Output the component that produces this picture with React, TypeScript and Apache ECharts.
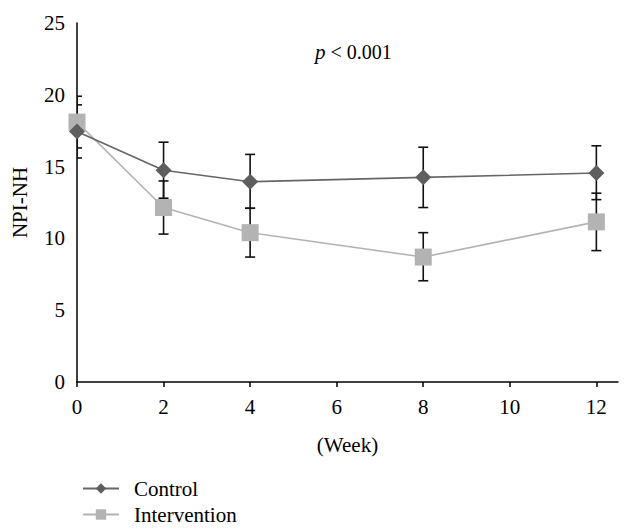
import React, { useEffect, useRef } from "react";
import * as echarts from "echarts";

const weeks = [0, 2, 4, 8, 12];
const control = [17.45, 14.75, 13.95, 14.25, 14.55];
const controlLow = [15.6, 12.8, 12.1, 12.15, 12.7];
const controlHigh = [19.9, 16.7, 15.85, 16.35, 16.45];
const intervention = [18.1, 12.15, 10.4, 8.7, 11.15];
const interventionLow = [16.3, 10.3, 8.7, 7.05, 9.15];
const interventionHigh = [19.3, 14.0, 12.1, 10.4, 13.15];
const xTicks = [0, 2, 4, 6, 8, 10, 12];

const FONT = "Liberation Serif, Times New Roman, serif";

export default function App() {
  const ref = useRef<HTMLDivElement>(null);
  useEffect(() => {
    if (!ref.current) return;
    const chart = echarts.init(ref.current, null, { renderer: "svg" });
    const errItem = (params: any, api: any) => {
      const x = api.value(0);
      const lo = api.coord([x, api.value(1)]);
      const hi = api.coord([x, api.value(2)]);
      const hw = 5;
      const style = { stroke: "#111", lineWidth: 1.6 };
      return {
        type: "group",
        children: [
          { type: "line", shape: { x1: lo[0], y1: lo[1], x2: hi[0], y2: hi[1] }, style },
          { type: "line", shape: { x1: lo[0] - hw, y1: lo[1], x2: lo[0] + hw, y2: lo[1] }, style },
          { type: "line", shape: { x1: hi[0] - hw, y1: hi[1], x2: hi[0] + hw, y2: hi[1] }, style },
        ],
      };
    };
    chart.setOption({
      animation: false,
      textStyle: { fontFamily: FONT, color: "#000" },
      grid: { left: 77, top: 23, width: 541, height: 359, containLabel: false },
      xAxis: {
        type: "value",
        min: 0,
        max: 12.5,
        interval: 2,
        name: "(Week)",
        nameLocation: "middle",
        nameGap: 52,
        nameTextStyle: { fontFamily: FONT, fontSize: 21, color: "#000" },
        axisLine: { show: true, lineStyle: { color: "#000", width: 1.5 } },
        axisTick: { show: true, inside: false, length: 5, lineStyle: { color: "#000", width: 1.5 }, customValues: xTicks },
        axisLabel: {
          fontFamily: FONT,
          fontSize: 21,
          color: "#000",
          margin: 14,
          customValues: xTicks,
          formatter: (v: number) => (v % 2 === 0 ? String(v) : ""),
        },
        splitLine: { show: false },
      },
      yAxis: {
        type: "value",
        min: 0,
        max: 25,
        interval: 5,
        name: "NPI-NH",
        nameLocation: "middle",
        nameGap: 47,
        nameTextStyle: { fontFamily: FONT, fontSize: 21, color: "#000" },
        axisLine: { show: true, lineStyle: { color: "#000", width: 1.5 } },
        axisTick: { show: false },
        axisLabel: { fontFamily: FONT, fontSize: 21, color: "#000", margin: 12 },
        splitLine: { show: false },
      },
      legend: {
        data: ["Control", "Intervention"],
        orient: "vertical",
        left: 77,
        top: 473,
        itemWidth: 36,
        itemHeight: 13,
        itemGap: 5,
        textStyle: { fontFamily: FONT, fontSize: 21, color: "#000", padding: [0, 0, 0, 10], lineHeight: 21 },
      },
      graphic: [
        {
          type: "text",
          left: 315,
          top: 41,
          style: {
            text: "{i|p}{n| < 0.001}",
            fill: "#000",
            rich: {
              i: { fontStyle: "italic", fontSize: 21, fontFamily: FONT, fill: "#000" },
              n: { fontSize: 20, fontFamily: FONT, fill: "#000" },
            },
          },
        },
      ],
      series: [
        {
          type: "custom",
          name: "ctrlErr",
          clip: true,
          z: 1,
          renderItem: errItem,
          data: weeks.map((w, i) => [w, controlLow[i], controlHigh[i]]),
        },
        {
          type: "custom",
          name: "intErr",
          clip: true,
          z: 1,
          renderItem: errItem,
          data: weeks.map((w, i) => [w, interventionLow[i], interventionHigh[i]]),
        },
        {
          type: "line",
          name: "Intervention",
          z: 3,
          data: weeks.map((w, i) => [w, intervention[i]]),
          symbol: "rect",
          symbolSize: 17,
          lineStyle: { color: "#b3b3b3", width: 1.6 },
          itemStyle: { color: "#b3b3b3" },
        },
        {
          type: "line",
          name: "Control",
          z: 4,
          data: weeks.map((w, i) => [w, control[i]]),
          symbol: "diamond",
          symbolSize: 16,
          lineStyle: { color: "#666666", width: 1.6 },
          itemStyle: { color: "#5e5e5e" },
        },
      ],
    });
    return () => chart.dispose();
  }, []);
  return <div ref={ref} style={{ position: "fixed", left: 0, top: 0, width: 633, height: 531, background: "#fff" }} />;
}
